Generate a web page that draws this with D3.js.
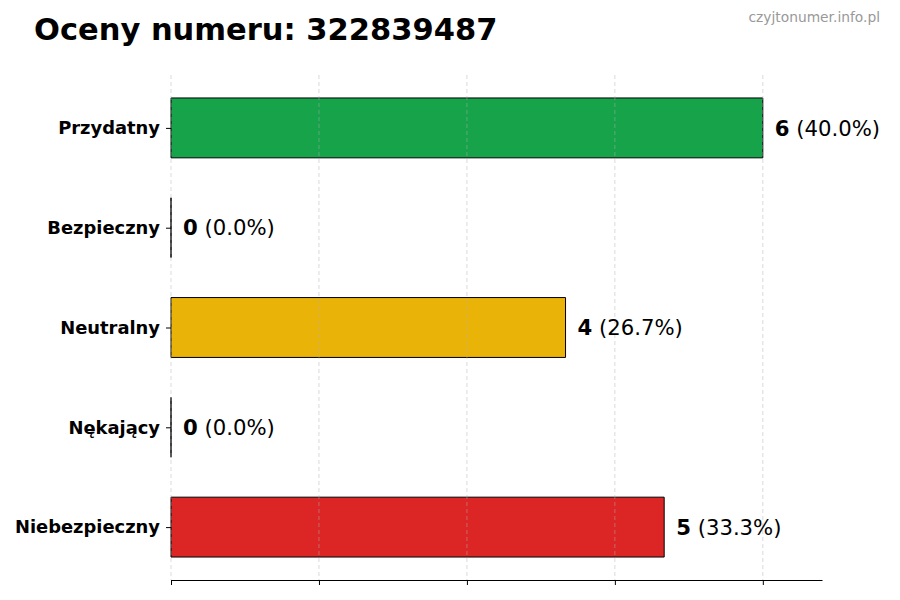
<!DOCTYPE html>
<html>
<head>
<meta charset="utf-8">
<script src="https://cdn.jsdelivr.net/npm/d3@7"></script>
<style>
  body { margin: 0; background: #fff; }
  svg { font-family: "DejaVu Sans", sans-serif; }
</style>
</head>
<body>
<div class="chart"></div>
<script>
// dane wykresu
var kategorie = ["Przydatny", "Bezpieczny", "Neutralny", "Nękający", "Niebezpieczny"];
var liczby = [6, 0, 4, 0, 5];
var procenty = ["40.0%", "0.0%", "26.7%", "0.0%", "33.3%"];
var kolory = ["#16a34a", "#16a34a", "#eab308", "#dc2626", "#dc2626"];
var tickiX = [0, 1.5, 3, 4.5, 6];
var tytul = "Oceny numeru: 322839487";
var znakWodny = "czyjtonumer.info.pl";

var width = 900, height = 600;
// marginesy obszaru wykresu ("top" jest zajete przez window.top)
var mLewo = 171, mPrawo = 822, mGora = 75, mDol = 580;

var svg = d3.select(".chart").append("svg")
  .attr("width", width)
  .attr("height", height);

var x = d3.scaleLinear()
  .domain([0, d3.max(liczby) * 1.1])
  .range([mLewo, mPrawo]);

// indeks kategorii -> pozycja pionowa
var y = d3.scaleLinear()
  .domain([-0.53, kategorie.length - 1 + 0.53])
  .range([mGora, mDol]);

var bandH = y(1) - y(0);
var barH = bandH * 0.6;

// tytul i znak wodny
svg.append("text")
  .attr("x", 34)
  .attr("y", 40)
  .style("font-size", "30.5px")
  .style("font-weight", "bold")
  .text(tytul);

svg.append("text")
  .attr("x", 880)
  .attr("y", 22)
  .attr("text-anchor", "end")
  .style("font-size", "13.8px")
  .style("fill", "#999")
  .text(znakWodny);

// slupki jako sciezki, zeby przy wartosci 0 zostal widoczny obrys
svg.selectAll(".bar")
  .data(liczby)
  .enter().append("path")
  .attr("class", "bar")
  .attr("d", function (d, i) {
    var p = d3.path();
    p.rect(x(0), y(i) - barH / 2, x(d) - x(0), barH);
    return p.toString();
  })
  .attr("fill", function (d, i) { return kolory[i]; })
  .attr("stroke", "#000")
  .attr("stroke-width", 1);

// siatka (nad slupkami)
svg.selectAll(".grid")
  .data(tickiX)
  .enter().append("line")
  .attr("class", "grid")
  .attr("x1", function (d) { return x(d); })
  .attr("x2", function (d) { return x(d); })
  .attr("y1", mGora)
  .attr("y2", mDol)
  .attr("stroke", "#b0b0b0")
  .attr("stroke-opacity", 0.6)
  .attr("stroke-width", 0.8)
  .attr("stroke-dasharray", "4,3");

// os X bez etykiet
var osX = svg.append("g")
  .attr("transform", "translate(0," + mDol + ")")
  .call(d3.axisBottom(x).tickValues(tickiX).tickFormat("").tickSize(5).tickSizeOuter(0));
osX.select(".domain").attr("stroke", "#000");

// os Y: tylko kreski i etykiety
var osY = svg.append("g")
  .attr("transform", "translate(" + mLewo + ",0)")
  .call(d3.axisLeft(y).tickValues(d3.range(kategorie.length))
    .tickFormat(function (i) { return kategorie[i]; }).tickSize(5).tickPadding(6));
osY.select(".domain").remove();
osY.selectAll("text")
  .style("font-family", "DejaVu Sans")
  .style("font-size", "17.9px")
  .style("font-weight", "bold")
  .attr("fill", "#000");

// etykiety wartosci
var etykiety = svg.selectAll(".val")
  .data(liczby)
  .enter().append("text")
  .attr("class", "val")
  .attr("x", function (d) { return x(d) + 12; })
  .attr("y", function (d, i) { return y(i); })
  .attr("dy", "0.36em")
  .style("font-size", "21.2px");
etykiety.append("tspan")
  .style("font-weight", "bold")
  .text(function (d) { return d; });
etykiety.append("tspan")
  .text(function (d, i) { return " (" + procenty[i] + ")"; });
</script>
</body>
</html>
